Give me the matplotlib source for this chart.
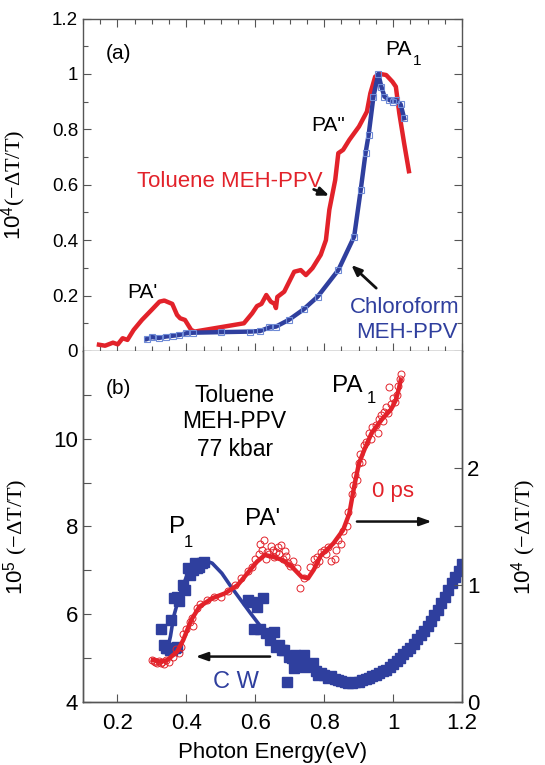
import matplotlib
matplotlib.use("Agg")
import matplotlib.pyplot as plt
from matplotlib.ticker import MultipleLocator, FixedLocator

plt.rcParams['font.family'] = ['Liberation Sans', 'DejaVu Sans']
plt.rcParams['mathtext.fontset'] = 'custom'
plt.rcParams['mathtext.rm'] = 'Liberation Serif'
plt.rcParams['mathtext.sf'] = 'Liberation Sans'
plt.rcParams['mathtext.it'] = 'Liberation Serif:italic'

RED = '#e2222a'
BLUE = '#2f3f9e'

# ---------------- panel (a) data ----------------
tol_x = [0.14, 0.164, 0.187, 0.201, 0.215, 0.229, 0.247, 0.271, 0.299, 0.322, 0.336, 0.359,
         0.373, 0.382, 0.396, 0.414, 0.424, 0.567, 0.591, 0.605, 0.618, 0.632, 0.645, 0.656,
         0.660, 0.664, 0.684, 0.713, 0.732, 0.747, 0.766, 0.79, 0.805, 0.815, 0.832, 0.841,
         0.855, 0.873, 0.901, 0.924, 0.934, 0.948, 0.962, 0.98, 0.998, 1.008, 1.018, 1.032, 1.047]
tol_y = [0.024, 0.019, 0.030, 0.024, 0.046, 0.040, 0.076, 0.112, 0.148, 0.178, 0.182, 0.170,
         0.130, 0.118, 0.112, 0.076, 0.070, 0.100, 0.136, 0.162, 0.170, 0.202, 0.178, 0.170,
         0.155, 0.195, 0.214, 0.286, 0.292, 0.274, 0.299, 0.347, 0.40, 0.51, 0.617, 0.714,
         0.726, 0.762, 0.81, 0.864, 0.930, 0.990, 1.0, 0.996, 0.972, 0.954, 0.858, 0.75, 0.641]

chl_x = [0.285, 0.30, 0.32, 0.34, 0.36, 0.38, 0.40, 0.42, 0.5, 0.586, 0.614, 0.641, 0.66,
         0.697, 0.74, 0.781, 0.841, 0.887, 0.906, 0.92, 0.929, 0.943, 0.957, 0.966, 0.975,
         0.989, 1.0, 1.008, 1.022, 1.032]
chl_y = [0.043, 0.05, 0.047, 0.052, 0.055, 0.058, 0.064, 0.066, 0.068, 0.070, 0.072, 0.085,
         0.088, 0.112, 0.15, 0.196, 0.292, 0.413, 0.581, 0.714, 0.780, 0.918, 1.0, 0.954,
         0.918, 0.906, 0.9, 0.906, 0.89, 0.84]

# ---------------- panel (b) data ----------------
cw_line_x = [0.335, 0.345, 0.354, 0.363, 0.382, 0.40, 0.424, 0.452, 0.475, 0.503, 0.530,
             0.558, 0.586, 0.623, 0.669, 0.716, 0.771, 0.829, 0.878, 0.926, 0.975, 1.023,
             1.071, 1.12, 1.158, 1.2]
cw_line_y = [5.30, 5.18, 5.50, 5.94, 6.47, 6.85, 7.08, 7.23, 7.16, 6.93, 6.62, 6.32, 6.02,
             5.64, 5.25, 4.98, 4.72, 4.55, 4.46, 4.57, 4.76, 5.07, 5.48, 6.02, 6.55, 7.08]

cw_pts_x = [0.326, 0.334, 0.340, 0.345, 0.352, 0.359, 0.366, 0.373, 0.354, 0.365, 0.373,
            0.380, 0.391, 0.395, 0.405, 0.410, 0.418, 0.424, 0.431, 0.438, 0.445, 0.452,
            0.578, 0.591, 0.597, 0.605, 0.614, 0.622, 0.632, 0.642, 0.655, 0.66, 0.670,
            0.679, 0.684, 0.692, 0.697, 0.706, 0.713, 0.716, 0.725, 0.734, 0.742, 0.744,
            0.755, 0.767, 0.775, 0.781, 0.79, 0.80, 0.81, 0.82, 0.83, 0.84, 0.85, 0.86,
            0.87, 0.88, 0.89, 0.90, 0.91, 0.92, 0.93, 0.94, 0.95, 0.96, 0.97, 0.98, 0.99,
            1.00, 1.01, 1.02, 1.03, 1.04, 1.05, 1.06, 1.07, 1.08, 1.09, 1.10, 1.11, 1.12,
            1.13, 1.14, 1.15, 1.16, 1.17, 1.18, 1.19, 1.20]
cw_pts_y = [5.67, 5.29, 5.22, 5.22, 5.18, 5.18, 5.22, 5.25, 5.86, 6.36, 6.40, 6.30, 6.66,
            6.55, 7.04, 6.90, 7.00, 7.16, 7.05, 7.08, 7.16, 7.19, 6.32, 6.28, 5.67, 6.17,
            5.67, 6.36, 5.56, 5.41, 5.60, 5.25, 5.30, 5.18, 5.18, 4.46, 5.03, 5.00, 4.76,
            5.07, 4.98, 4.95, 5.07, 4.80, 4.85, 4.88, 4.70, 4.61, 4.65, 4.60, 4.55, 4.58,
            4.52, 4.50, 4.48, 4.46, 4.43, 4.42, 4.45, 4.46, 4.50, 4.52, 4.55, 4.58, 4.62,
            4.65, 4.70, 4.72, 4.80, 4.85, 4.92, 5.00, 5.08, 5.15, 5.22, 5.32, 5.42, 5.52,
            5.62, 5.72, 5.85, 5.97, 6.10, 6.25, 6.40, 6.55, 6.70, 6.85, 6.98, 7.14]

ps_line_x = [0.303, 0.326, 0.345, 0.373, 0.391, 0.414, 0.438, 0.475, 0.512, 0.549, 0.577,
             0.605, 0.628, 0.651, 0.679, 0.706, 0.734, 0.753, 0.77, 0.79, 0.808, 0.827,
             0.855, 0.873, 0.887, 0.901, 0.92, 0.938, 0.966, 0.994, 1.008, 1.017, 1.022]
ps_line_y = [0.357, 0.342, 0.357, 0.428, 0.528, 0.699, 0.813, 0.885, 0.927, 0.998, 1.098,
             1.198, 1.255, 1.240, 1.212, 1.155, 1.069, 1.055, 1.13, 1.25, 1.30, 1.355,
             1.469, 1.61, 1.84, 2.04, 2.18, 2.30, 2.41, 2.50, 2.58, 2.68, 2.75]

ps_pts_x = [0.300, 0.305, 0.31, 0.315, 0.32, 0.325, 0.33, 0.335, 0.34, 0.35, 0.36, 0.37,
            0.38, 0.385, 0.39, 0.40, 0.41, 0.415, 0.42, 0.43, 0.44, 0.46, 0.48, 0.50, 0.52,
            0.54, 0.56, 0.58, 0.59, 0.60, 0.61, 0.615, 0.62, 0.625, 0.63, 0.635, 0.64,
            0.645, 0.65, 0.655, 0.66, 0.665, 0.67, 0.675, 0.68, 0.685, 0.69, 0.695, 0.70,
            0.71, 0.72, 0.73, 0.74, 0.76, 0.77, 0.775, 0.78, 0.785, 0.79, 0.80, 0.805, 0.81,
            0.82, 0.83, 0.835, 0.84, 0.85, 0.855, 0.865, 0.87, 0.88, 0.885, 0.89, 0.895,
            0.90, 0.905, 0.91, 0.915, 0.92, 0.93, 0.935, 0.94, 0.95, 0.955, 0.96, 0.965,
            0.97, 0.975, 0.98, 0.985, 0.989, 0.995, 1.00, 1.005, 1.01, 1.015, 1.02, 1.022]
ps_pts_y = [0.36, 0.35, 0.34, 0.33, 0.35, 0.33, 0.34, 0.32, 0.36, 0.34, 0.38, 0.45, 0.42,
            0.47, 0.58, 0.62, 0.68, 0.72, 0.65, 0.80, 0.84, 0.87, 0.90, 0.90, 0.95, 1.00,
            1.06, 1.12, 1.15, 1.22, 1.26, 1.35, 1.30, 1.38, 1.22, 1.28, 1.26, 1.33, 1.30,
            1.24, 1.28, 1.32, 1.26, 1.34, 1.22, 1.29, 1.25, 1.19, 1.16, 1.20, 1.14, 0.97,
            1.06, 1.15, 1.22, 1.18, 1.24, 1.20, 1.28, 1.30, 1.26, 1.32, 1.20, 1.22, 1.30,
            1.38, 1.35, 1.46, 1.50, 1.62, 1.78, 1.85, 1.94, 1.90, 2.04, 2.12, 2.05, 2.20,
            2.22, 2.30, 2.25, 2.35, 2.37, 2.30, 2.42, 2.45, 2.40, 2.48, 2.52, 2.47, 2.69,
            2.55, 2.60, 2.56, 2.62, 2.70, 2.76, 2.80]

x_ticks = [0.2, 0.4, 0.6, 0.8, 1.0, 1.2]
x_ticklabels = ['0.2', '0.4', '0.6', '0.8', '1', '1.2']
a_yticks = [0, 0.2, 0.4, 0.6, 0.8, 1.0, 1.2]
a_yticklabels = ['0', '0.2', '0.4', '0.6', '0.8', '1', '1.2']
b_yticks = [4, 6, 8, 10]
b_rticks = [0, 1, 2]

fig = plt.figure(figsize=(5.45, 7.65), dpi=100)
L, W = 83 / 545, 379 / 545
ax1 = fig.add_axes([L, 0.5412, W, 0.4346])
ax2 = fig.add_axes([L, 0.0827, W, 0.4585])
ax3 = ax2.twinx()

SP = '#555555'
for ax in (ax1, ax2, ax3):
    for s in ax.spines.values():
        s.set_color(SP)
        s.set_linewidth(1.0)

# ---------- panel (a) ----------
ax1.plot(tol_x, tol_y, color=RED, lw=3.2, solid_joinstyle='round', solid_capstyle='butt', zorder=3)
ax1.plot(chl_x, chl_y, color=BLUE, lw=3.2, solid_joinstyle='round', zorder=4,
         marker='s', ms=4, mfc='none', mec='#6f8bd6', mew=0.8)
ax1.set_xlim(0.1, 1.2)
ax1.set_ylim(0, 1.2)
ax1.set_xticks(x_ticks)
ax1.xaxis.set_minor_locator(MultipleLocator(0.05))
ax1.set_yticks(a_yticks)
ax1.set_yticklabels(a_yticklabels)
ax1.yaxis.set_minor_locator(MultipleLocator(0.1))
ax1.tick_params(axis='both', which='both', direction='in', top=True, right=True,
                labelbottom=False, color=SP)
ax1.tick_params(which='major', length=6, width=0.8, labelsize=13.5)
ax1.tick_params(which='minor', length=3.5, width=0.8)
ax1.set_ylabel(r'10$^{\mathsf{4}}$$\mathrm{(-\Delta T/T)}$', fontsize=16)
ax1.yaxis.set_label_coords(-0.145, 0.5)

tk = dict(fontsize=15, va='baseline', ha='center')
ax1.text(0.203, 1.053, '(a)', **tk)
ax1.text(1.016, 1.069, 'PA', **tk)
ax1.text(1.071, 1.033, '1', fontsize=11, va='baseline', ha='center')
ax1.text(0.811, 0.794, 'PA"', **tk)
ax1.text(0.273, 0.192, "PA'", **tk)
ax1.text(0.525, 0.591, 'Toluene MEH-PPV', color=RED, fontsize=16, va='baseline', ha='center')
ax1.text(1.035, 0.136, 'Chloroform', color=BLUE, fontsize=16, va='baseline', ha='center')
ax1.text(1.04, 0.046, 'MEH-PPV', color=BLUE, fontsize=16, va='baseline', ha='center')
ax1.annotate('', xy=(0.822, 0.557), xytext=(0.762, 0.587),
             arrowprops=dict(arrowstyle='-|>,head_length=0.6,head_width=0.25', color='#111111', lw=2))
ax1.annotate('', xy=(0.873, 0.317), xytext=(0.957, 0.220),
             arrowprops=dict(arrowstyle='-|>,head_length=0.6,head_width=0.25', color='#111111', lw=2))

# ---------- panel (b) ----------
ax2.plot(cw_pts_x, cw_pts_y, ls='none', marker='s', ms=6.5, color=BLUE, zorder=3)
ax2.plot(cw_line_x, cw_line_y, color=BLUE, lw=2.6, solid_joinstyle='round', zorder=4)
ax3.plot(ps_pts_x, ps_pts_y, ls='none', marker='o', ms=5, mfc='none', mec=RED, mew=0.7, zorder=3)
ax3.plot(ps_line_x, ps_line_y, color=RED, lw=3.2, solid_joinstyle='round', zorder=4)

ax2.set_xlim(0.1, 1.2)
ax2.set_ylim(4, 12)
ax3.set_ylim(0, 3)
ax2.set_xticks(x_ticks)
ax2.set_xticklabels(x_ticklabels)
ax2.set_yticks(b_yticks)
ax2.yaxis.set_minor_locator(FixedLocator([5, 7, 9, 11]))
ax3.set_yticks(b_rticks)
ax3.yaxis.set_minor_locator(FixedLocator([0.5, 1.5, 2.5]))
for ax in (ax2, ax3):
    ax.spines['top'].set_visible(False)
ax2.tick_params(axis='both', which='both', direction='in', color=SP, labelsize=16)
ax2.tick_params(which='major', length=6, width=0.8)
ax2.tick_params(which='minor', length=6, width=0.8)
ax2.tick_params(axis='x', pad=8)
ax3.tick_params(axis='y', which='both', direction='in', color=SP, labelsize=16, length=6, width=0.8)
ax2.set_xlabel('Photon Energy(eV)', fontsize=16, labelpad=6)
ax2.set_ylabel(r'10$^{\mathsf{5}}$ $\mathrm{(-\Delta T/T)}$', fontsize=16)
ax2.yaxis.set_label_coords(-0.14, 0.47)
ax3.set_ylabel(r'10$^{\mathsf{4}}$ $\mathrm{(-\Delta T/T)}$', fontsize=16, rotation=90)
ax3.yaxis.set_label_coords(1.125, 0.47)

tb = dict(fontsize=16.5, va='baseline', ha='center')
ax2.text(0.202, 11.03, '(b)', fontsize=15, va='baseline', ha='center')
ax2.text(0.54, 10.84, 'Toluene', **tb)
ax2.text(0.54, 10.24, 'MEH-PPV', **tb)
ax2.text(0.54, 9.61, '77 kbar', **tb)
ax2.text(0.868, 11.07, 'PA', fontsize=17.5, va='baseline', ha='center')
ax2.text(0.936, 10.81, '1', fontsize=12, va='baseline', ha='center')
ax2.text(0.372, 7.84, 'P', fontsize=17.5, va='baseline', ha='center')
ax2.text(0.405, 7.54, '1', fontsize=12, va='baseline', ha='center')
ax2.text(0.621, 8.03, "PA'", fontsize=17.5, va='baseline', ha='center')
ax2.text(0.999, 8.68, '0 ps', color=RED, fontsize=16, va='baseline', ha='center')
ax2.text(0.544, 4.32, 'C W', color=BLUE, fontsize=17, va='baseline', ha='center')
ax2.annotate('', xy=(1.12, 8.11), xytext=(0.887, 8.11),
             arrowprops=dict(arrowstyle='-|>,head_length=0.7,head_width=0.25', color='#111111', lw=1.8))
ax2.annotate('', xy=(0.419, 5.03), xytext=(0.651, 5.03),
             arrowprops=dict(arrowstyle='-|>,head_length=0.7,head_width=0.25', color='#111111', lw=1.8))

fig.savefig('out.png', dpi=100)
